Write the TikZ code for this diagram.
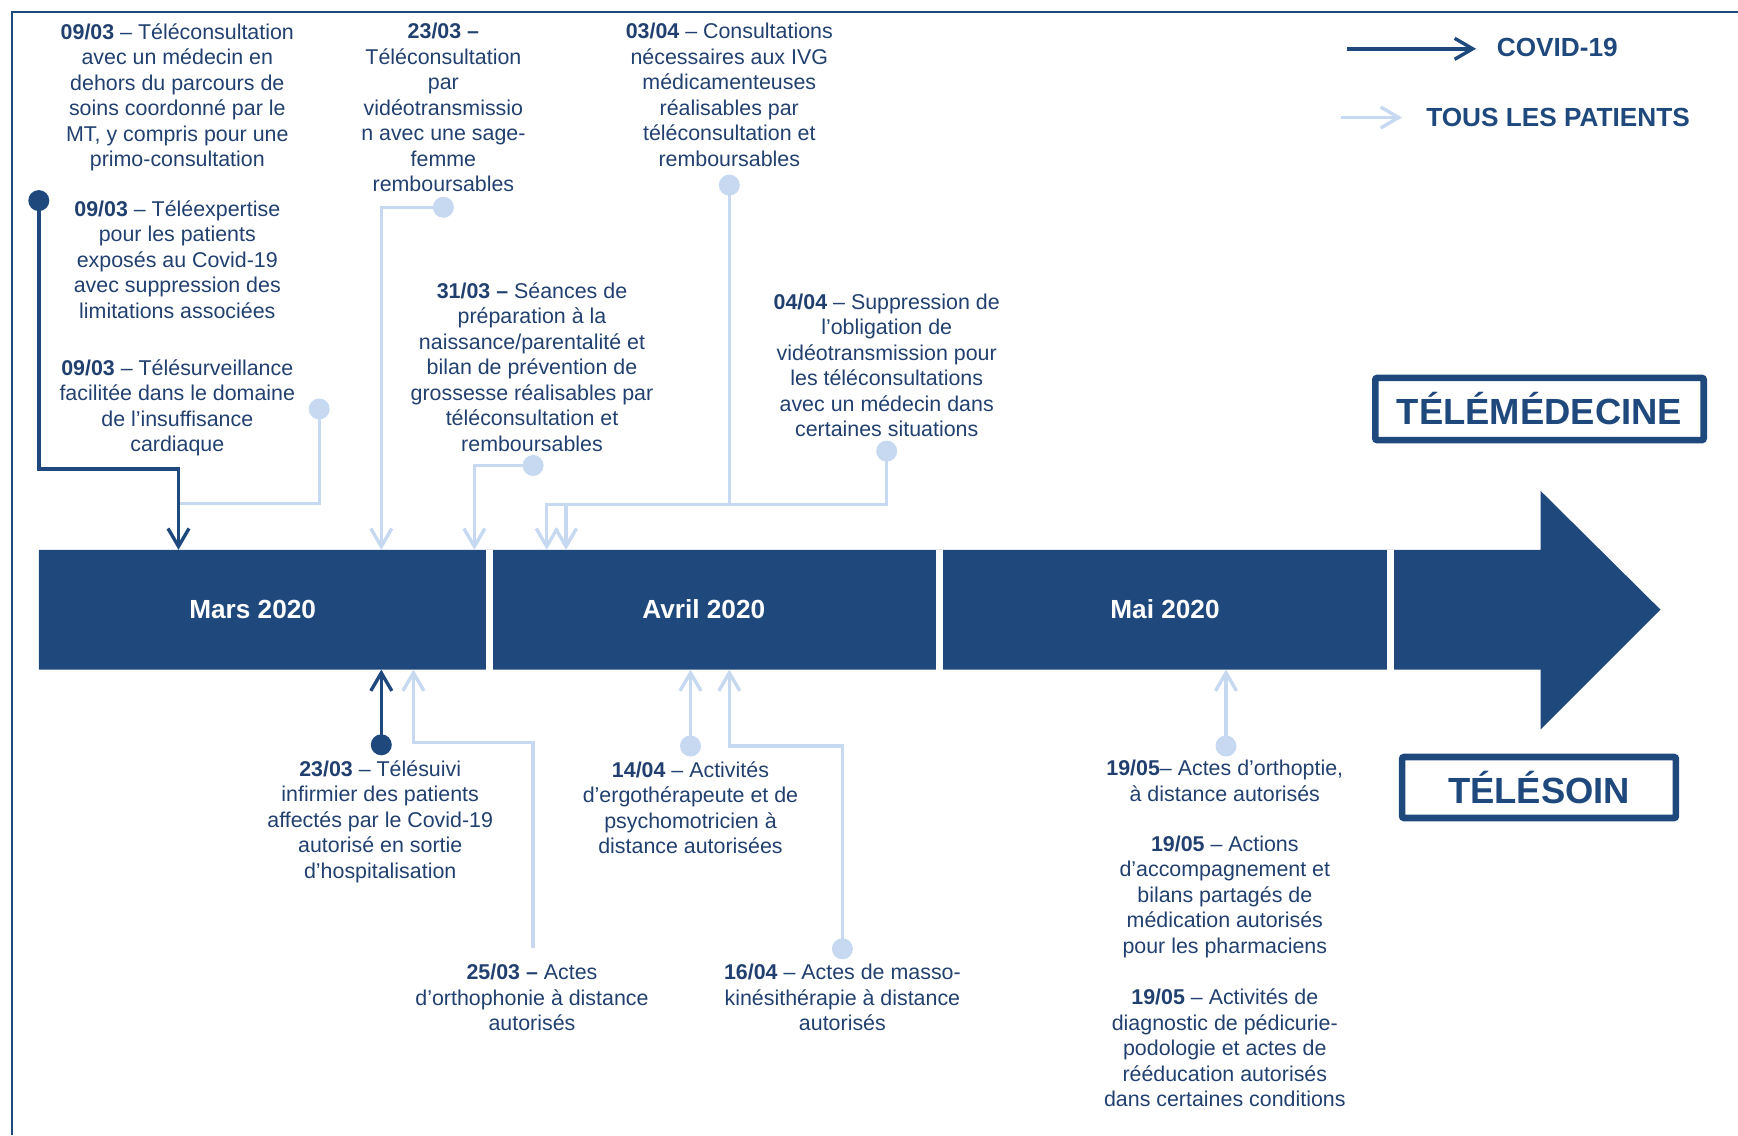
\documentclass[tikz,border=0pt]{standalone}
\usepackage{fontspec}
\setmainfont{Liberation Sans}
\usetikzlibrary{arrows.meta}
\definecolor{navy}{HTML}{1F497D}
\definecolor{pale}{HTML}{C6D9F1}
\definecolor{ink}{HTML}{21406F}

\begin{document}
\begin{tikzpicture}[x=0.5pt,y=-0.5pt,
  note/.style={align=center, anchor=north, inner sep=0pt, text=ink,
    font=\fontsize{10.7}{12.75}\selectfont},
  month/.style={text=white, font=\bfseries\fontsize{13.1}{15}\selectfont},
  tag/.style={draw=navy, line width=3.3pt, rounded corners=1pt, text=navy,
    inner sep=0pt, font=\bfseries\fontsize{18.2}{20}\selectfont},
  legend/.style={text=navy, font=\bfseries\fontsize{13.1}{15}\selectfont},
  pin/.style={circle, inner sep=0pt, minimum size=10.5pt},
  pinall/.style={pin, fill=pale},
  pincovid/.style={pin, fill=navy},
  barb/.style={-{Straight Barb[length=9pt,width=10.5pt]}},
  allline/.style={draw=pale, line width=1.7pt},
  allpath/.style={allline, barb},
  covidpath/.style={draw=navy, line width=1.7pt, barb},
]
\useasboundingbox (0,0) rectangle (1738,1135);

% frame
\draw[navy, line width=1pt] (1738,11.5) -- (11.5,11.5) -- (11.5,1135);

% timeline bar with its arrow head
\fill[navy] (38.8,549.8) -- (1540.7,549.8) -- (1540.7,491) -- (1660.4,609.6)
  -- (1540.7,729.3) -- (1540.7,669.5) -- (38.8,669.5) -- cycle;
\foreach \xd in {489, 939, 1390}
  \fill[white] (\xd-3.5,549.8) rectangle (\xd+3.5,669.5);

\node[month] (mMar) at (252.7,609.6) {Mars 2020};
\node[month] (mAvr) at (703.8,609.6) {Avril 2020};
\node[month] (mMai) at (1165,609.6) {Mai 2020};

% legend
\node[legend] (lgCovid) at (1557.3,47.7) {COVID-19};
\node[legend] (lgAll) at (1558,117.5) {TOUS LES PATIENTS};
\coordinate (lgCovidA) at (1346.7,48.8);
\coordinate (lgCovidB) at (1476,48.8);
\coordinate (lgAllA) at (1341,117.5);
\coordinate (lgAllB) at (1402,117.5);
\draw[covidpath] (lgCovidA) -- (lgCovidB);
\draw[allpath] (lgAllA) -- (lgAllB);

% category boxes
\node[tag, minimum width=164.2pt, minimum height=31.1pt] (tele) at (1539.5,409) {TÉLÉMÉDECINE};
\node[tag, minimum width=136.9pt, minimum height=30.5pt] (soin) at (1539,787.5) {TÉLÉSOIN};

% event texts above the bar
\node[note] (n1) at (177.3,23) {\textbf{09/03} – Téléconsultation\\avec un médecin en\\dehors du parcours de\\soins coordonné par le\\MT, y compris pour une\\primo-consultation};
\node[note] (n2) at (177.3,200) {\textbf{09/03} – Téléexpertise\\pour les patients\\exposés au Covid-19\\avec suppression des\\limitations associées};
\node[note] (n3) at (177.3,359) {\textbf{09/03} – Télésurveillance\\facilitée dans le domaine\\de l’insuffisance\\cardiaque};
\node[note] (n4) at (443.4,23) {\textbf{23/03 –}\\Téléconsultation\\par\\vidéotransmissio\\n avec une sage-\\femme\\remboursables};
\node[note] (n5) at (729.3,23) {\textbf{03/04} – Consultations\\nécessaires aux IVG\\médicamenteuses\\réalisables par\\téléconsultation et\\remboursables};
\node[note] (n6) at (532,282) {\textbf{31/03 –} Séances de\\préparation à la\\naissance/parentalité et\\bilan de prévention de\\grossesse réalisables par\\téléconsultation et\\remboursables};
\node[note] (n7) at (886.7,293.5) {\textbf{04/04} – Suppression de\\l’obligation de\\vidéotransmission pour\\les téléconsultations\\avec un médecin dans\\certaines situations};

% event texts below the bar
\node[note] (n8) at (380.2,760) {\textbf{23/03} – Télésuivi\\infirmier des patients\\affectés par le Covid-19\\autorisé en sortie\\d’hospitalisation};
\node[note] (n9) at (532,964) {\textbf{25/03 –} Actes\\d’orthophonie à distance\\autorisés};
\node[note] (n10) at (690.5,761) {\textbf{14/04} – Activités\\d’ergothérapeute et de\\psychomotricien à\\distance autorisées};
\node[note] (n11) at (842.4,964) {\textbf{16/04} – Actes de masso-\\kinésithérapie à distance\\autorisés};
\node[note] (n12) at (1224.8,760) {\textbf{19/05}– Actes d’orthoptie,\\à distance autorisés};
\node[note] (n13) at (1224.8,835.5) {\textbf{19/05} – Actions\\d’accompagnement et\\bilans partagés de\\médication autorisés\\pour les pharmaciens};
\node[note] (n14) at (1224.8,988.5) {\textbf{19/05} – Activités de\\diagnostic de pédicurie-\\podologie et actes de\\rééducation autorisés\\dans certaines conditions};

% pins
\node[pincovid] (pA) at (38.8,200.6) {};
\node[pinall] (pB) at (319.2,409) {};
\node[pinall] (pC) at (443.4,207.3) {};
\node[pinall] (pD) at (533.1,465.5) {};
\node[pinall] (pE) at (729.3,185.1) {};
\node[pinall] (pF) at (886.7,451.1) {};
\node[pincovid] (pG) at (381.3,744.8) {};
\node[pinall] (pH) at (690.5,746) {};
\node[pinall] (pI) at (842.4,948.8) {};
\node[pinall] (pJ) at (1226,746) {};
\coordinate (eK) at (533.1,947.7);

% arrival points on the bar
\coordinate (tA) at (178.5,549.8);
\coordinate (tC) at (381.3,549.8);
\coordinate (tD) at (474.4,549.8);
\coordinate (tE) at (546.7,549.8);
\coordinate (tF) at (566,549.8);
\coordinate (bG) at (381.3,669.5);
\coordinate (bK) at (413.4,669.5);
\coordinate (bH) at (690.5,669.5);
\coordinate (bI) at (729.3,669.5);
\coordinate (bJ) at (1226,669.5);

% bends
\coordinate (kA) at (38.8,468.9);
\coordinate (jB) at (178.5,503.2);
\coordinate (kE) at (729.3,504.3);
\coordinate (kF) at (886.7,504.3);
\coordinate (kK) at (533.1,742.6);
\coordinate (kI) at (842.4,746);

% connectors
\draw[allline] (pB.center) |- (jB);
\draw[allpath] (pC.center) -| (tC);
\draw[allpath] (pD.center) -| (tD);
\draw[allpath] (pE.center) -- (kE) -| (tE);
\draw[allpath] (pF.center) -- (kF) -| (tF);
\draw[covidpath] (pA.center) -- (kA) -| (tA);
\draw[covidpath] (pG.center) -- (bG);
\draw[allpath] (eK) -- (kK) -| (bK);
\draw[allpath] (pH.center) -- (bH);
\draw[allpath] (pI.center) -- (kI) -| (bI);
\draw[allpath] (pJ.center) -- (bJ);
\end{tikzpicture}
\end{document}
